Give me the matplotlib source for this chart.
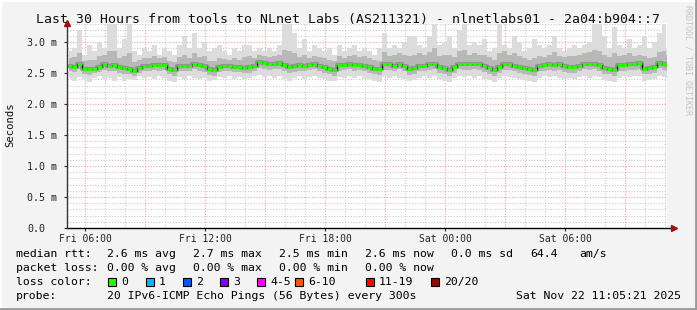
import matplotlib
matplotlib.use("Agg")
import matplotlib.pyplot as plt
from matplotlib.patches import Rectangle
import numpy as np

# ---------------- data ----------------
t_start = 5 + 5.35 / 60.0          # Fri 05:05:21 (hours since Fri 00:00)
t_end = t_start + 30.0             # Sat 11:05:21
step_h = 0.25                      # one sample every 15 minutes (display resolution)

median_ms = [
    2.62, 2.60, 2.65, 2.56, 2.56, 2.57, 2.60, 2.64, 2.62, 2.63, 2.60, 2.58, 2.56, 2.53, 2.59, 2.62,
    2.62, 2.63, 2.63, 2.63, 2.57, 2.55, 2.62, 2.62, 2.62, 2.65, 2.63, 2.61, 2.56, 2.55, 2.60,
    2.61, 2.62, 2.60, 2.60, 2.58, 2.60, 2.62, 2.68, 2.66, 2.64, 2.65, 2.66, 2.63, 2.60, 2.61,
    2.63, 2.62, 2.63, 2.65, 2.62, 2.60, 2.57, 2.55, 2.63, 2.63, 2.65, 2.63, 2.63, 2.62, 2.60,
    2.57, 2.56, 2.64, 2.64, 2.62, 2.65, 2.62, 2.56, 2.58, 2.62, 2.62, 2.64, 2.65, 2.60, 2.58,
    2.55, 2.60, 2.65, 2.64, 2.64, 2.65, 2.64, 2.61, 2.58, 2.55, 2.60, 2.64, 2.64, 2.62, 2.60,
    2.58, 2.56, 2.55, 2.62, 2.63, 2.64, 2.63, 2.64, 2.61, 2.60, 2.60, 2.62, 2.65, 2.64, 2.65,
    2.63, 2.58, 2.57, 2.55, 2.63, 2.63, 2.64, 2.64, 2.66, 2.57, 2.58, 2.60, 2.67, 2.64, 2.63,
]

smoke_min_ms = [
    2.42, 2.38, 2.44, 2.40, 2.36, 2.42, 2.45, 2.40, 2.43, 2.38, 2.44, 2.37, 2.41, 2.39, 2.45, 2.42,
    2.44, 2.40, 2.46, 2.43, 2.38, 2.36, 2.44, 2.41, 2.45, 2.43, 2.40, 2.42, 2.37, 2.39, 2.44,
    2.43, 2.46, 2.41, 2.44, 2.40, 2.42, 2.45, 2.47, 2.44, 2.46, 2.42, 2.45, 2.40, 2.38, 2.43,
    2.45, 2.41, 2.44, 2.46, 2.42, 2.40, 2.38, 2.37, 2.44, 2.42, 2.46, 2.43, 2.45, 2.41, 2.40,
    2.38, 2.36, 2.44, 2.42, 2.45, 2.43, 2.40, 2.37, 2.39, 2.43, 2.45, 2.42, 2.46, 2.40, 2.38,
    2.35, 2.42, 2.45, 2.44, 2.46, 2.43, 2.45, 2.41, 2.39, 2.36, 2.42, 2.45, 2.44, 2.42, 2.40,
    2.39, 2.37, 2.36, 2.43, 2.45, 2.44, 2.46, 2.43, 2.41, 2.42, 2.40, 2.44, 2.45, 2.43, 2.46,
    2.44, 2.39, 2.38, 2.35, 2.43, 2.45, 2.44, 2.46, 2.45, 2.38, 2.39, 2.41, 2.46, 2.44, 2.43,
]

smoke_max_ms = [
    2.85, 2.90, 3.20, 2.80, 2.95, 2.85, 3.00, 2.90, 3.30, 3.30, 2.90, 3.05, 3.30, 2.85, 2.80, 2.90,
    2.85, 2.95, 2.80, 2.90, 2.85, 2.80, 2.95, 3.10, 2.90, 3.15, 2.90, 3.00, 2.85, 2.90, 2.95,
    2.85, 2.80, 2.90, 2.85, 2.95, 2.95, 2.85, 2.90, 2.85, 2.90, 2.85, 2.95, 3.30, 3.30, 3.15,
    2.90, 3.05, 2.85, 2.95, 2.90, 2.85, 2.90, 2.80, 2.95, 2.85, 2.90, 2.95, 2.85, 2.90, 2.85,
    2.80, 2.90, 3.15, 2.90, 2.95, 2.90, 3.00, 3.10, 3.10, 2.95, 2.90, 3.10, 3.30, 2.95, 3.00,
    3.10, 2.90, 3.20, 3.30, 2.95, 3.00, 2.95, 3.05, 2.85, 2.90, 3.30, 2.95, 2.90, 3.10, 3.00,
    2.85, 2.90, 3.05, 2.95, 2.90, 2.95, 3.10, 2.90, 2.85, 2.90, 2.95, 2.90, 2.95, 3.00, 3.30,
    3.30, 3.10, 2.90, 3.25, 2.95, 2.90, 3.05, 2.90, 2.95, 3.10, 2.90, 3.00, 3.15, 3.30, 2.90,
]

inner_lo_ms = [
    2.54, 2.52, 2.56, 2.48, 2.47, 2.50, 2.52, 2.55, 2.54, 2.53, 2.51, 2.49, 2.48, 2.45, 2.50, 2.54,
    2.53, 2.55, 2.54, 2.55, 2.48, 2.46, 2.53, 2.54, 2.53, 2.56, 2.54, 2.52, 2.47, 2.46, 2.52,
    2.53, 2.54, 2.52, 2.52, 2.50, 2.51, 2.54, 2.58, 2.57, 2.55, 2.56, 2.57, 2.54, 2.50, 2.52,
    2.54, 2.53, 2.55, 2.56, 2.54, 2.51, 2.48, 2.46, 2.54, 2.55, 2.56, 2.54, 2.55, 2.53, 2.51,
    2.48, 2.47, 2.55, 2.55, 2.53, 2.56, 2.53, 2.47, 2.49, 2.53, 2.53, 2.55, 2.56, 2.51, 2.49,
    2.46, 2.51, 2.56, 2.55, 2.55, 2.56, 2.55, 2.52, 2.49, 2.46, 2.51, 2.55, 2.55, 2.53, 2.51,
    2.49, 2.47, 2.46, 2.53, 2.54, 2.55, 2.54, 2.55, 2.52, 2.51, 2.51, 2.53, 2.56, 2.55, 2.56,
    2.54, 2.49, 2.48, 2.46, 2.54, 2.54, 2.55, 2.55, 2.57, 2.48, 2.49, 2.51, 2.58, 2.55, 2.54,
]

inner_hi_ms = [
    2.74, 2.76, 2.82, 2.70, 2.72, 2.72, 2.78, 2.80, 2.85, 2.86, 2.74, 2.78, 2.82, 2.68, 2.72, 2.75,
    2.74, 2.77, 2.74, 2.76, 2.70, 2.68, 2.76, 2.80, 2.74, 2.82, 2.76, 2.78, 2.70, 2.70, 2.74,
    2.73, 2.72, 2.74, 2.72, 2.76, 2.78, 2.74, 2.80, 2.78, 2.76, 2.77, 2.80, 2.88, 2.86, 2.82,
    2.76, 2.80, 2.74, 2.78, 2.76, 2.74, 2.72, 2.70, 2.78, 2.75, 2.78, 2.80, 2.76, 2.78, 2.74,
    2.72, 2.70, 2.84, 2.78, 2.80, 2.82, 2.80, 2.78, 2.80, 2.82, 2.80, 2.84, 2.90, 2.78, 2.80,
    2.80, 2.76, 2.86, 2.88, 2.80, 2.82, 2.80, 2.80, 2.76, 2.72, 2.82, 2.86, 2.80, 2.82, 2.78,
    2.74, 2.72, 2.74, 2.78, 2.76, 2.80, 2.84, 2.78, 2.76, 2.77, 2.78, 2.80, 2.82, 2.84, 2.88,
    2.86, 2.80, 2.76, 2.82, 2.78, 2.80, 2.82, 2.78, 2.80, 2.78, 2.74, 2.76, 2.84, 2.86, 2.80,
]

y_ticks = [0.0, 0.5, 1.0, 1.5, 2.0, 2.5, 3.0]
y_tick_labels = ["0.0", "0.5 m", "1.0 m", "1.5 m", "2.0 m", "2.5 m", "3.0 m"]
x_ticks = [6, 12, 18, 24, 30]
x_tick_labels = ["Fri 06:00", "Fri 12:00", "Fri 18:00", "Sat 00:00", "Sat 06:00"]

title = "Last 30 Hours from tools to NLnet Labs (AS211321) - nlnetlabs01 - 2a04:b904::7"
rtt_stats = ["2.6 ms avg", "2.7 ms max", "2.5 ms min", "2.6 ms now", "0.0 ms sd", "64.4", "am/s"]
loss_stats = ["0.00 % avg", "0.00 % max", "0.00 % min", "0.00 % now"]
loss_labels = ["0", "1", "2", "3", "4-5", "6-10", "11-19", "20/20"]
loss_colors = ["#26ff00", "#00b8ff", "#0059ff", "#7e00ff", "#ff00ff", "#ff5500", "#ff0000", "#a10000"]
probe_text = "20 IPv6-ICMP Echo Pings (56 Bytes) every 300s"
stamp_text = "Sat Nov 22 11:05:21 2025"

# ---------------- figure ----------------
W, H = 697, 310
DPI = 100
BG = "#f3f3f3"
MONO = "DejaVu Sans Mono"

fig = plt.figure(figsize=(W / DPI, H / DPI), dpi=DPI, facecolor=BG)

def fx(px):
    return px / W

def fy(py):
    return 1 - py / H

ax_left, ax_right, ax_top, ax_bottom = 67, 667, 23, 228
ax = fig.add_axes([fx(ax_left), fy(ax_bottom), (ax_right - ax_left) / W, (ax_bottom - ax_top) / H])
ax.set_facecolor("white")

n = len(median_ms)
t = t_start + step_h * np.arange(n) + step_h / 2
t = np.clip(t, t_start, t_end)
med = np.array(median_ms)

ymax = 3.31
ax.set_xlim(t_start, t_end)
ax.set_ylim(0, ymax)

# grid
dot = (0, (1, 1.5))
for h in np.arange(6, 36, 1):
    if h % 3:
        ax.axvline(h, color="#cbcbcb", lw=0.8, ls=dot, zorder=0)
for v in np.arange(0.1, 3.35, 0.1):
    if abs(v / 0.5 - round(v / 0.5)) > 1e-6:
        ax.axhline(v, color="#cbcbcb", lw=0.8, ls=dot, zorder=0)
for h in np.arange(6, 36, 3):
    ax.axvline(h, color="#f0a0a0", lw=0.8, ls=dot, zorder=0.5)
for v in y_ticks[1:]:
    ax.axhline(v, color="#f0a0a0", lw=0.8, ls=dot, zorder=0.5)

# smoke
ax.fill_between(t, smoke_min_ms, smoke_max_ms, step="mid", color="#dcdcdc", lw=0, zorder=1)
ax.fill_between(t, inner_lo_ms, inner_hi_ms, step="mid", color="#b8b8b8", lw=0, zorder=2)
ax.step(t, med, where="mid", color="#666666", lw=3.0, alpha=0.45, zorder=3)
ax.step(t, med, where="mid", color="#111111", lw=0.8, zorder=4)
ax.hlines(med, t - step_h * 0.45, t + step_h * 0.45, color="#26ff00", lw=2.0, zorder=5)

# axes lines and arrows
for s in ax.spines.values():
    s.set_visible(False)
ax.plot([0, 1.012], [0, 0], transform=ax.transAxes, color="black", lw=1.0, clip_on=False, zorder=6)
ax.plot([0, 0], [0, 1.0], transform=ax.transAxes, color="#333333", lw=1.0, clip_on=False, zorder=6)
ax.plot([1.012], [0], marker=">", color="#a01010", ms=5, transform=ax.transAxes, clip_on=False, zorder=7)
ax.plot([0], [1.0], marker="^", color="#a01010", ms=5, transform=ax.transAxes, clip_on=False, zorder=7)

ax.set_xticks(x_ticks)
ax.set_xticklabels(x_tick_labels, family=MONO, fontsize=7, color="#222222")
ax.set_yticks(y_ticks)
ax.set_yticklabels(y_tick_labels, family=MONO, fontsize=7.2, color="#222222", ha="left")
ax.tick_params(axis="x", length=2, pad=2, color="#333333")
ax.tick_params(axis="y", length=2, pad=26.5, color="#333333")

# texts
fig.text(0.5, fy(19), title, family=MONO, fontsize=9.5, ha="center", va="center", color="#111111")
fig.text(fx(10), fy(125), "Seconds", family=MONO, fontsize=7.6, rotation=90, ha="center", va="center", color="#111111")
fig.text(fx(688), fy(5), "RRDTOOL / TOBI OETIKER", family=MONO, fontsize=6.0,
         rotation=270, ha="center", va="top", color="#c4c4c4")

LF = 8.25
row_y = [254, 268, 282, 296]
fig.text(fx(16), fy(row_y[0]), "median rtt:", family=MONO, fontsize=LF, va="center")
for x, s in zip([107, 193, 279, 365, 451, 530, 579], rtt_stats):
    fig.text(fx(x), fy(row_y[0]), s, family=MONO, fontsize=LF, va="center")
fig.text(fx(16), fy(row_y[1]), "packet loss:", family=MONO, fontsize=LF, va="center")
for x, s in zip([107, 193, 279, 365], loss_stats):
    fig.text(fx(x), fy(row_y[1]), s, family=MONO, fontsize=LF, va="center")
fig.text(fx(16), fy(row_y[2]), "loss color:", family=MONO, fontsize=LF, va="center")
box_x = [108, 146, 183, 220, 257, 295, 366, 431]
for x, lab, c in zip(box_x, loss_labels, loss_colors):
    fig.patches.append(Rectangle((fx(x), fy(row_y[2] + 4)), 8 / W, 8 / H, transform=fig.transFigure,
                                 facecolor=c, edgecolor="black", lw=0.8))
    fig.text(fx(x + 13), fy(row_y[2]), lab, family=MONO, fontsize=LF, va="center")
fig.text(fx(16), fy(row_y[3]), "probe:", family=MONO, fontsize=LF, va="center")
fig.text(fx(107), fy(row_y[3]), probe_text, family=MONO, fontsize=LF, va="center")
fig.text(fx(681), fy(row_y[3]), stamp_text, family=MONO, fontsize=LF, va="center", ha="right")

# 3D-ish frame
fig.lines.append(plt.Line2D([0, 1], [fy(1), fy(1)], transform=fig.transFigure, color="white", lw=1.5))
fig.lines.append(plt.Line2D([fx(1), fx(1)], [0, 1], transform=fig.transFigure, color="white", lw=1.5))
fig.lines.append(plt.Line2D([0, 1], [fy(309), fy(309)], transform=fig.transFigure, color="#9a9a9a", lw=2))
fig.lines.append(plt.Line2D([fx(696), fx(696)], [0, 1], transform=fig.transFigure, color="#9a9a9a", lw=2))

fig.savefig("out.png", dpi=DPI, facecolor=BG)
